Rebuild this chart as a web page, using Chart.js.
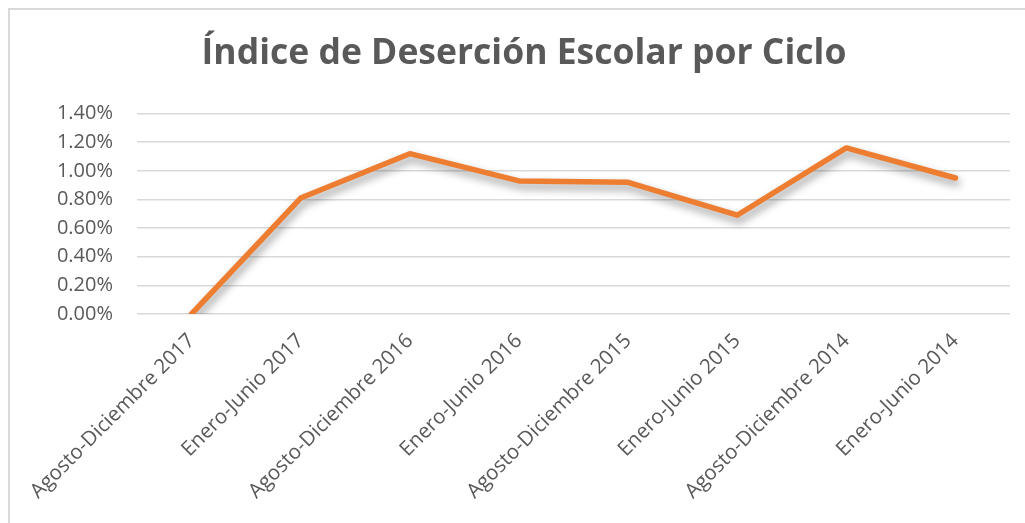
<!DOCTYPE html>
<html>
<head>
<meta charset="utf-8">
<script src="https://cdn.jsdelivr.net/npm/chart.js@4"></script>
<style>
  body { margin: 0; background: #fff; }
  #frame { position: absolute; left: 8px; top: 8px; width: 1030px; height: 530px;
           border-top: 2px solid #d9d9d9; border-left: 2px solid #d9d9d9; }
  #wrap { position: absolute; left: 0; top: 0; width: 1025px; height: 523px; }
</style>
</head>
<body>
<div id="frame"></div>
<div id="wrap"><canvas id="chart"></canvas></div>
<script>
// Ciclos escolares (eje X)
const ciclos = [
  'Agosto-Diciembre 2017', 'Enero-Junio 2017', 'Agosto-Diciembre 2016', 'Enero-Junio 2016',
  'Agosto-Diciembre 2015', 'Enero-Junio 2015', 'Agosto-Diciembre 2014', 'Enero-Junio 2014'
];
// Indice de desercion en porcentaje
const desercion = [0.00, 0.81, 1.12, 0.93, 0.92, 0.69, 1.16, 0.95];
// Escala del eje Y
const yMin = 0;
const yMax = 1.4;
const yStep = 0.2;

const gray = '#595959';

// sombra suave bajo la linea, como en Excel
const lineShadow = {
  id: 'lineShadow',
  beforeDatasetDraw(chart) {
    const c = chart.ctx;
    c.save();
    c.shadowColor = 'rgba(0,0,0,0.4)';
    c.shadowBlur = 8;
    c.shadowOffsetX = 2;
    c.shadowOffsetY = 5;
  },
  afterDatasetDraw(chart) {
    chart.ctx.restore();
  }
};

new Chart(document.getElementById('chart'), {
  type: 'line',
  data: {
    labels: ciclos,
    datasets: [{
      data: desercion,
      borderColor: '#ED7D31',
      borderWidth: 5.5,
      borderCapStyle: 'round',
      borderJoinStyle: 'round',
      pointRadius: 0,
      tension: 0,
      fill: false
    }]
  },
  options: {
    responsive: true,
    maintainAspectRatio: false,
    animation: false,
    layout: { padding: { left: 38, right: 15, top: 0, bottom: 0 } },
    plugins: {
      legend: { display: false },
      tooltip: { enabled: false },
      title: {
        display: true,
        text: 'Índice de Deserción Escolar por Ciclo',
        color: gray,
        font: { family: 'Open Sans', size: 35.5, weight: 'bold', lineHeight: 1.2 },
        padding: { top: 33, bottom: 38 }
      }
    },
    scales: {
      x: {
        offset: true,
        grid: { display: false },
        border: { display: false },
        ticks: {
          color: gray,
          font: { family: 'Open Sans', size: 20.5 },
          minRotation: 45,
          maxRotation: 45,
          autoSkip: false,
          padding: 7
        },
        afterFit(scale) { scale.height = 209; }
      },
      y: {
        min: yMin,
        max: yMax,
        grid: { color: '#d9d9d9', lineWidth: 1.5, drawTicks: false },
        border: { display: false },
        ticks: {
          stepSize: yStep,
          color: gray,
          font: { family: 'Open Sans', size: 20 },
          padding: 24,
          callback: v => v.toFixed(2) + '%'
        },
        afterFit(scale) { scale.width = 99; }
      }
    }
  },
  plugins: [lineShadow]
});
</script>
</body>
</html>
